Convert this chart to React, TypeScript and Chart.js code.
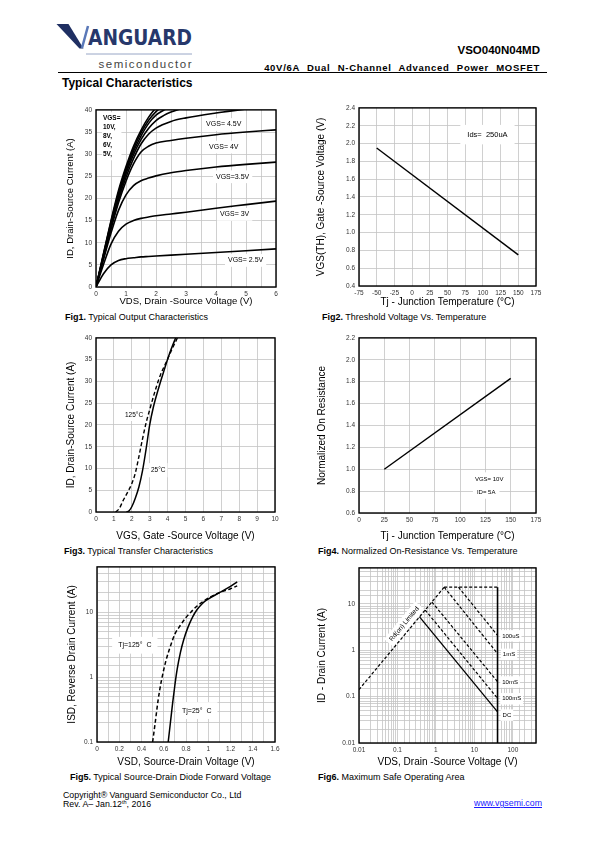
import React, { useEffect, useRef } from "react";
import { Chart, registerables } from "chart.js";

Chart.register(...registerables);
Chart.defaults.font.family = "'Liberation Sans', Arial, sans-serif";

// ---------- Fig1 data: ID vs VDS ----------
const fig1X = [0, 0.25, 0.5, 0.75, 1, 1.25, 1.5, 1.75, 2, 2.5, 3, 4, 5, 6];
const fig1X10 = [0, 0.25, 0.5, 0.75, 1, 1.25, 1.5, 1.75, 2, 2.1];
const fig1Y10 = [0, 7.6, 15, 21.8, 27.2, 31.8, 35.4, 38.3, 40.5, 41.2];
const fig1X8 = [0, 0.25, 0.5, 0.75, 1, 1.25, 1.5, 1.75, 2, 2.25];
const fig1Y8 = [0, 7.4, 14.7, 21.3, 26.7, 31.2, 34.8, 37.6, 39.6, 41];
const fig1X6 = [0, 0.25, 0.5, 0.75, 1, 1.25, 1.5, 1.75, 2, 2.25, 2.5];
const fig1Y6 = [0, 7.2, 14.3, 20.8, 26.2, 30.6, 34.1, 36.9, 38.8, 39.9, 40.8];
const fig1X5 = [0, 0.25, 0.5, 0.75, 1, 1.25, 1.5, 1.75, 2, 2.25, 2.5, 2.75, 3];
const fig1Y5 = [0, 7, 13.9, 20.3, 25.6, 29.9, 33.3, 35.8, 37.6, 38.7, 39.5, 40.1, 40.6];
const fig1Y45 = [0, 6.8, 13.5, 19.7, 24.8, 29, 32.3, 34.5, 35.9, 37.4, 38.2, 39.3, 40.2, 41];
const fig1Y4 = [0, 6.6, 13.1, 19, 23.9, 27.8, 30.5, 31.8, 32.5, 33.1, 33.6, 34.4, 35, 35.5];
const fig1Y35 = [0, 6.2, 12.2, 17.3, 20.8, 22.9, 24, 24.6, 25.1, 25.8, 26.3, 27.1, 27.7, 28.2];
const fig1Y3 = [0, 5.1, 9.7, 12.6, 14.2, 15.0, 15.5, 15.8, 16.1, 16.5, 16.9, 17.8, 18.6, 19.4];
const fig1Y25 = [0, 3.0, 5.0, 6.0, 6.4, 6.6, 6.8, 6.9, 7.0, 7.2, 7.4, 7.8, 8.2, 8.6];

// ---------- Fig2 data: VGS(th) vs Tj ----------
const fig2Tj = [-50, 150];
const fig2Vth = [1.95, 0.75];

// ---------- Fig3 data: ID vs VGS ----------
const fig3X25 = [1.7, 1.85, 2.0, 2.2, 2.4, 2.6, 2.8, 3.0, 3.2, 3.5, 3.8, 4.1, 4.45, 4.6];
const fig3Y25 = [0, 0.3, 1.2, 3.2, 5.8, 9.5, 14.5, 20, 24, 28.5, 32.5, 36.3, 40, 41.5];
const fig3X125 = [1.1, 1.3, 1.5, 1.8, 2.0, 2.2, 2.4, 2.6, 2.8, 3.0, 3.3, 3.6, 3.9, 4.2, 4.55, 4.7];
const fig3Y125 = [0, 0.8, 2.5, 4.8, 6.5, 9, 12.8, 16.8, 20.5, 23.5, 27.8, 31.5, 34.2, 37, 40, 41.2];

// ---------- Fig4 data: normalized RDS(on) vs Tj ----------
const fig4Tj = [25, 150];
const fig4R = [1.0, 1.83];

// ---------- Fig5 data: ISD vs VSD ----------
const fig5X25 = [0.64, 0.66, 0.68, 0.7, 0.72, 0.75, 0.78, 0.82, 0.86, 0.9, 0.95, 1.0, 1.1, 1.2, 1.26];
const fig5Y25 = [0.1, 0.2, 0.4, 0.75, 1.3, 2.4, 3.8, 6.0, 8.5, 11, 13.8, 16, 20, 25, 29.5];
const fig5X125 = [0.5, 0.52, 0.55, 0.58, 0.62, 0.66, 0.7, 0.75, 0.8, 0.85, 0.9, 0.95, 1.0, 1.1, 1.2, 1.26];
const fig5Y125 = [0.1, 0.18, 0.45, 0.9, 1.8, 3.0, 4.6, 6.3, 8.3, 10.3, 12.5, 14.5, 16.5, 20, 23, 25.5];

// ---------- Fig6 data: SOA ----------
const soaRdsV = [0.01, 1.64];
const soaRdsI = [0.142, 23];
const soaLimV = [1.64, 40];
const soaLimI = [23, 23];
const soaMaxV = [40, 40];
const soaMaxI = [0.01, 23];
const soa100usV = [3.86, 40];
const soa100usI = [23, 2.1];
const soa1msV = [1.64, 40];
const soa1msI = [23, 0.85];
const soa10msV = [0.787, 40];
const soa10msI = [11.0, 0.21];
const soa100msV = [0.527, 40];
const soa100msI = [7.4, 0.092];
const soaDcV = [0.375, 40];
const soaDcI = [5.26, 0.047];

const pts = (xs: number[], ys: number[]) => xs.map((x, i) => ({ x, y: ys[i] }));

const FONT = "'Liberation Sans', Arial, sans-serif";

type Label = {
  x: number;
  y: number;
  text: string | string[];
  size: number;
  bold?: boolean;
  align?: "left" | "center";
  padX?: number;
  padY?: number;
  rot?: number;
  lh?: number;
};

function labelsPlugin(labels: Label[]) {
  return {
    id: "txtlabels",
    beforeDatasetsDraw(chart: any) {
      const { ctx, scales } = chart;
      for (const l of labels) {
        const px = scales.x.getPixelForValue(l.x);
        const py = scales.y.getPixelForValue(l.y);
        ctx.save();
        ctx.translate(px, py);
        if (l.rot) ctx.rotate(l.rot);
        ctx.font = `${l.bold ? "bold " : ""}${l.size}px ${FONT}`;
        const lines = Array.isArray(l.text) ? l.text : [l.text];
        const lh = l.lh ?? l.size * 1.25;
        const w = Math.max(...lines.map((t) => ctx.measureText(t).width));
        const h = lh * lines.length;
        const x0 = l.align === "center" ? -w / 2 : 0;
        const y0 = -lh / 2;
        const padX = l.padX ?? 3;
        const padY = l.padY ?? 2;
        ctx.fillStyle = "#fff";
        ctx.fillRect(x0 - padX, y0 - padY, w + 2 * padX, h + 2 * padY);
        ctx.fillStyle = "#000";
        ctx.textBaseline = "middle";
        ctx.textAlign = "left";
        lines.forEach((t, i) => ctx.fillText(t, x0, i * lh));
        ctx.restore();
      }
    },
  };
}

const framePlugin = {
  id: "frame",
  afterDraw(chart: any) {
    const { ctx, chartArea: a } = chart;
    ctx.save();
    ctx.strokeStyle = "#000";
    ctx.lineWidth = 1.4;
    ctx.strokeRect(a.left, a.top, a.right - a.left, a.bottom - a.top);
    ctx.restore();
  },
};

type Spec = {
  L: number;
  T: number;
  R: number;
  B: number;
  yTitleX: number;
  xTitleY: number;
  titleSize: number;
  xTitle: string;
  yTitle: string;
  xScale: any;
  yScale: any;
  datasets: any[];
  labels: Label[];
};

const PAD_TOP = 6;
const PAD_RIGHT = 10;

function Plot({ spec }: { spec: Spec }) {
  const ref = useRef<HTMLCanvasElement>(null);
  const lh = spec.titleSize * 1.2;
  const cx = Math.round(spec.yTitleX - lh / 2);
  const cy = Math.round(spec.T - PAD_TOP);
  const cw = Math.round(spec.R + PAD_RIGHT - cx);
  const ch = Math.round(spec.xTitleY + lh / 2 - cy);
  useEffect(() => {
    if (!ref.current) return;
    const tickFont = { size: 6.5 };
    const chart = new Chart(ref.current, {
      type: "scatter",
      data: { datasets: spec.datasets },
      options: {
        animation: false,
        responsive: false,
        maintainAspectRatio: false,
        layout: { padding: { top: PAD_TOP, right: PAD_RIGHT, left: 0, bottom: 0 } },
        plugins: { legend: { display: false }, tooltip: { enabled: false } },
        elements: { point: { radius: 0 } },
        scales: {
          x: {
            ...spec.xScale,
            grid: { color: "#c4c4c4", lineWidth: 0.8, drawTicks: false },
            border: { display: false },
            ticks: { font: tickFont, color: "#333", padding: 3, autoSkip: false, maxRotation: 0, ...spec.xScale.ticks },
            title: { display: true, text: spec.xTitle, font: { size: spec.titleSize }, color: "#000", padding: 0 },
            afterFit: (s: any) => {
              s.height = cy + ch - spec.B;
            },
          },
          y: {
            ...spec.yScale,
            grid: { color: "#c4c4c4", lineWidth: 0.8, drawTicks: false },
            border: { display: false },
            ticks: { font: tickFont, color: "#333", padding: 4, autoSkip: false, ...spec.yScale.ticks },
            title: { display: true, text: spec.yTitle, font: { size: spec.titleSize }, color: "#000", padding: 0 },
            afterFit: (s: any) => {
              s.width = spec.L - cx;
            },
          },
        },
      } as any,
      plugins: [labelsPlugin(spec.labels), framePlugin],
    });
    return () => chart.destroy();
  }, []);
  return (
    <canvas
      ref={ref}
      width={cw}
      height={ch}
      style={{ position: "absolute", left: cx, top: cy, width: cw, height: ch }}
    />
  );
}

const solid = (data: any[], w = 1.6) => ({
  data,
  showLine: true,
  borderColor: "#000",
  borderWidth: w,
  pointRadius: 0,
  cubicInterpolationMode: "monotone",
  fill: false,
});
const dashed = (data: any[], w = 1.4) => ({ ...solid(data, w), borderDash: [4, 2.5] });
const straight = (data: any[], w = 1.4, dash?: number[]) => ({
  data,
  showLine: true,
  borderColor: "#000",
  borderWidth: w,
  pointRadius: 0,
  tension: 0,
  borderDash: dash ?? [],
  fill: false,
});

const isDecade = (v: number) => Math.abs(Math.log10(v) - Math.round(Math.log10(v))) < 1e-6;

const fig1: Spec = {
  L: 96, T: 108, R: 276, B: 287,
  yTitleX: 71, xTitleY: 301.5, titleSize: 9.5,
  xTitle: "VDS, Drain -Source Voltage (V)",
  yTitle: "ID, Drain-Source Current (A)",
  xScale: { type: "linear", min: 0, max: 6, ticks: { stepSize: 0.5, callback: (v: number) => (Number.isInteger(v) ? String(v) : "") } },
  yScale: { type: "linear", min: 0, max: 40, ticks: { stepSize: 5 } },
  datasets: [
    solid(pts(fig1X10, fig1Y10)),
    solid(pts(fig1X8, fig1Y8)),
    solid(pts(fig1X6, fig1Y6)),
    solid(pts(fig1X5, fig1Y5)),
    solid(pts(fig1X, fig1Y45)),
    solid(pts(fig1X, fig1Y4)),
    solid(pts(fig1X, fig1Y35)),
    solid(pts(fig1X, fig1Y3)),
    solid(pts(fig1X, fig1Y25)),
  ],
  labels: [
    { x: 0.23, y: 38.2, text: ["VGS=", "10V,", "8V,", "6V,", "5V,"], size: 6.5, bold: true, lh: 9.2, padX: 1, padY: 1 },
    { x: 3.67, y: 36.7, text: "VGS= 4.5V", size: 7 },
    { x: 3.77, y: 31.6, text: "VGS= 4V", size: 7 },
    { x: 4.0, y: 24.9, text: "VGS=3.5V", size: 7 },
    { x: 4.13, y: 16.4, text: "VGS= 3V", size: 7 },
    { x: 4.4, y: 6.0, text: "VGS= 2.5V", size: 7 },
  ],
};

const fig2: Spec = {
  L: 359, T: 106, R: 536, B: 286,
  yTitleX: 321, xTitleY: 301.5, titleSize: 10,
  xTitle: "Tj - Junction Temperature (°C)",
  yTitle: "VGS(TH), Gate -Source Voltage (V)",
  xScale: { type: "linear", min: -75, max: 175, ticks: { stepSize: 25 } },
  yScale: { type: "linear", min: 0.4, max: 2.4, ticks: { stepSize: 0.2, callback: (v: number) => v.toFixed(1) } },
  datasets: [straight(pts(fig2Tj, fig2Vth), 1.4)],
  labels: [{ x: 78, y: 2.1, text: "Ids=  250uA", size: 7.5, padX: 7, padY: 5 }],
};

const fig3: Spec = {
  L: 96, T: 336, R: 275, B: 512,
  yTitleX: 71, xTitleY: 536, titleSize: 10,
  xTitle: "VGS, Gate -Source Voltage (V)",
  yTitle: "ID, Drain-Source Current (A)",
  xScale: { type: "linear", min: 0, max: 10, ticks: { stepSize: 1 } },
  yScale: { type: "linear", min: 0, max: 40, ticks: { stepSize: 5 } },
  datasets: [solid(pts(fig3X25, fig3Y25), 1.5), dashed(pts(fig3X125, fig3Y125), 1.4)],
  labels: [
    { x: 1.62, y: 22.3, text: "125°C", size: 6.5, padX: 2, padY: 2 },
    { x: 3.07, y: 9.6, text: "25°C", size: 6.5, padX: 2, padY: 3 },
  ],
};

const fig4: Spec = {
  L: 359, T: 336, R: 536, B: 513,
  yTitleX: 322, xTitleY: 536, titleSize: 10,
  xTitle: "Tj - Junction Temperature (°C)",
  yTitle: "Normalized On Resistance",
  xScale: { type: "linear", min: 0, max: 175, ticks: { stepSize: 25 } },
  yScale: { type: "linear", min: 0.6, max: 2.2, ticks: { stepSize: 0.2, callback: (v: number) => v.toFixed(1) } },
  datasets: [straight(pts(fig4Tj, fig4R), 1.4)],
  labels: [
    { x: 114.6, y: 0.91, text: "VGS= 10V", size: 6, padX: 4, padY: 3 },
    { x: 116.6, y: 0.792, text: "ID= 5A", size: 6, padX: 4, padY: 3 },
  ],
};

const fig5: Spec = {
  L: 97, T: 565, R: 275, B: 742,
  yTitleX: 72, xTitleY: 761.5, titleSize: 10,
  xTitle: "VSD, Source-Drain Voltage (V)",
  yTitle: "ISD, Reverse Drain Current (A)",
  xScale: {
    type: "linear", min: 0, max: 1.6,
    ticks: { stepSize: 0.1, callback: (v: number) => (Math.round(v * 10) % 2 === 0 ? String(+v.toFixed(1)) : "") },
  },
  yScale: { type: "logarithmic", min: 0.1, max: 50, ticks: { callback: (v: number) => (isDecade(v) ? String(v) : "") } },
  datasets: [solid(pts(fig5X25, fig5Y25), 1.5), dashed(pts(fig5X125, fig5Y125), 1.5)],
  labels: [
    { x: 0.19, y: 3.1, text: "Tj=125°  C", size: 7, padX: 6, padY: 4 },
    { x: 0.764, y: 0.305, text: "Tj=25°  C", size: 7, padX: 6, padY: 4 },
  ],
};

const fig6: Spec = {
  L: 359, T: 566, R: 536, B: 743,
  yTitleX: 322, xTitleY: 761.5, titleSize: 10,
  xTitle: "VDS, Drain -Source Voltage (V)",
  yTitle: "ID - Drain Current (A)",
  xScale: { type: "logarithmic", min: 0.01, max: 400, ticks: { callback: (v: number) => (isDecade(v) ? String(v) : "") } },
  yScale: { type: "logarithmic", min: 0.01, max: 60, ticks: { callback: (v: number) => (isDecade(v) ? String(v) : "") } },
  datasets: [
    straight(pts(soaRdsV, soaRdsI), 1.2, [3, 2]),
    straight(pts(soaLimV, soaLimI), 1.2, [3, 2]),
    straight(pts(soaMaxV, soaMaxI), 1.6),
    straight(pts(soa100usV, soa100usI), 1.2, [3, 2]),
    straight(pts(soa1msV, soa1msI), 1.2, [3, 2]),
    straight(pts(soa10msV, soa10msI), 1.2, [3, 2]),
    straight(pts(soa100msV, soa100msI), 1.2, [3, 2]),
    straight(pts(soaDcV, soaDcI), 1.3),
  ],
  labels: [
    { x: 0.15, y: 3.69, text: "Rd(on) Limited", size: 6.5, align: "center", rot: -0.88, padX: 3, padY: 2 },
    { x: 52.7, y: 2.05, text: "100uS", size: 6, padX: 2, padY: 2 },
    { x: 55, y: 0.818, text: "1mS", size: 6, padX: 2, padY: 2 },
    { x: 53, y: 0.207, text: "10mS", size: 6, padX: 2, padY: 2 },
    { x: 52.7, y: 0.09, text: "100mS", size: 6, padX: 2, padY: 2 },
    { x: 54, y: 0.04, text: "DC", size: 6, padX: 2, padY: 2 },
  ],
};

const abs = (left: number, top: number, extra: React.CSSProperties = {}): React.CSSProperties => ({
  position: "absolute",
  left,
  top,
  whiteSpace: "nowrap",
  ...extra,
});

function Caption({ left, top, num, text }: { left: number; top: number; num: string; text: string }) {
  return (
    <div style={abs(left, top, { fontSize: 9, lineHeight: "9px", color: "#000" })}>
      <b>{num}</b> {text}
    </div>
  );
}

export default function App() {
  return (
    <div
      style={{
        position: "absolute",
        left: 0,
        top: 0,
        width: 595,
        height: 842,
        background: "#fff",
        fontFamily: FONT,
        overflow: "hidden",
      }}
    >
      {/* Logo */}
      <svg style={{ position: "absolute", left: 0, top: 0 }} width={200} height={80}>
        <polygon points="56.5,24 68.5,24 83.5,48.5 79.5,48.5" fill="#1f2f62" />
        <line x1={88} y1={26} x2={82} y2={48} stroke="#5a78b8" strokeWidth={2.5} />
        <line x1={86} y1={54} x2={192} y2={54} stroke="#7f90b8" strokeWidth={0.8} />
        <text
          x={88}
          y={45}
          textLength={104}
          lengthAdjust="spacingAndGlyphs"
          fill="#27386b"
          style={{ fontFamily: "'Liberation Sans Narrow', 'DejaVu Sans Condensed', 'Liberation Sans', sans-serif", fontWeight: "bold", fontSize: 21 }}
        >
          ANGUARD
        </text>
        <text
          x={98.5}
          y={68.3}
          textLength={93}
          lengthAdjust="spacing"
          fill="#444"
          style={{ fontFamily: FONT, fontSize: 11.5 }}
        >
          semiconductor
        </text>
      </svg>

      <div style={{ position: "absolute", right: 55, top: 44.6, fontSize: 11.5, lineHeight: "11.5px", fontWeight: "bold", whiteSpace: "nowrap" }}>
        VSO040N04MD
      </div>
      <div
        style={{
          position: "absolute",
          right: 55,
          top: 63,
          fontSize: 9.5,
          lineHeight: "9.5px",
          fontWeight: "bold",
          whiteSpace: "nowrap",
          letterSpacing: 0.7,
          wordSpacing: 4,
        }}
      >
        40V/6A Dual N-Channel Advanced Power MOSFET
      </div>
      <div style={{ position: "absolute", left: 58, top: 72, width: 489, height: 1.2, background: "#000" }} />
      <div style={abs(62, 76.8, { fontSize: 12, lineHeight: "12px", fontWeight: "bold" })}>Typical Characteristics</div>

      <Plot spec={fig1} />
      <Plot spec={fig2} />
      <Plot spec={fig3} />
      <Plot spec={fig4} />
      <Plot spec={fig5} />
      <Plot spec={fig6} />

      <Caption left={65} top={313} num="Fig1." text="Typical Output Characteristics" />
      <Caption left={322} top={313} num="Fig2." text="Threshold Voltage Vs. Temperature" />
      <Caption left={64} top={546.5} num="Fig3." text="Typical Transfer Characteristics" />
      <Caption left={318} top={546.5} num="Fig4." text="Normalized On-Resistance Vs. Temperature" />
      <Caption left={70} top={772.5} num="Fig5." text="Typical Source-Drain Diode Forward Voltage" />
      <Caption left={318} top={773} num="Fig6." text="Maximum Safe Operating Area" />

      <div style={abs(63, 791, { fontSize: 8.8, lineHeight: "8.8px" })}>Copyright® Vanguard Semiconductor Co., Ltd</div>
      <div style={abs(63, 800, { fontSize: 8.8, lineHeight: "8.8px" })}>
        Rev. A– Jan.12<sup style={{ fontSize: 5.5, verticalAlign: "3px", lineHeight: 0 }}>th</sup>, 2016
      </div>
      <div style={{ position: "absolute", right: 53, top: 799, fontSize: 8.8, lineHeight: "8.8px", color: "#1a1aff", textDecoration: "underline", whiteSpace: "nowrap" }}>
        www.vgsemi.com
      </div>
    </div>
  );
}
